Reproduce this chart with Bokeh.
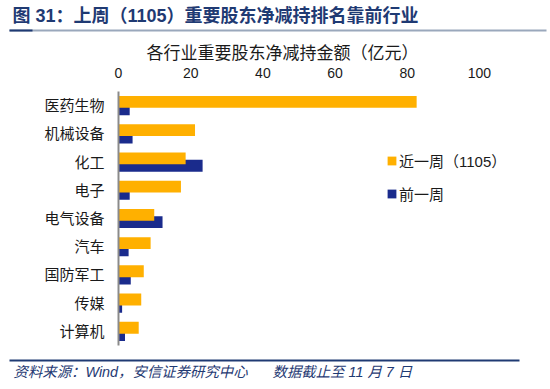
from bokeh.plotting import figure
from bokeh.layouts import column
from bokeh.models import (FactorRange, Range1d, Label, BoxAnnotation, Legend,
                          LegendItem, ColumnDataSource, FixedTicker)
from bokeh.transform import dodge
from bokeh.embed import file_html
from bokeh.resources import INLINE

categories = ["医药生物", "机械设备", "化工", "电子", "电气设备", "汽车", "国防军工", "传媒", "计算机"]
recent_week = [82.6, 21.2, 18.6, 17.3, 9.9, 8.9, 7.0, 6.3, 5.6]
prev_week = [3.1, 3.9, 23.3, 3.1, 12.2, 2.8, 3.4, 1.0, 1.8]
x_ticks = [0, 20, 40, 60, 80, 100]
series_names = ["近一周（1105）", "前一周"]

header_text = "图 31：上周（1105）重要股东净减持排名靠前行业"
chart_title = "各行业重要股东净减持金额（亿元）"
source_text = "资料来源：Wind，安信证券研究中心"
date_text = "数据截止至 11 月 7 日"

YELLOW = "#FFB000"
NAVY_BAR = "#1A2B8C"
NAVY = "#1F3A73"
CJK = "Liberation Sans, Noto Sans CJK SC"
W = 550


def blank(h):
    f = figure(width=W, height=h, output_backend="svg", toolbar_location=None,
               x_range=Range1d(0, W), y_range=Range1d(h, 0),
               x_axis_type=None, y_axis_type=None, min_border=0,
               min_border_left=0, min_border_right=0, min_border_top=0,
               min_border_bottom=0, frame_align=False)
    f.outline_line_color = None
    f.grid.visible = False
    return f


def rule(f, x0, x1, y0, y1, color):
    f.add_layout(BoxAnnotation(left=x0, right=x1, top=y0, bottom=y1,
                               fill_color=color, fill_alpha=1, line_color=None))


# ---- header ----
HA = 64
ph = blank(HA)
ph.add_layout(Label(x=12, y=15, text=header_text, text_font=CJK, text_font_size="18px",
                    text_font_style="bold", text_color=NAVY, text_baseline="middle"))
rule(ph, 9, 546, 29, 31, "#9AA8BC")
rule(ph, 9, 32, 29, 31, NAVY)
ph.add_layout(Label(x=282, y=53, text=chart_title, text_font=CJK, text_font_size="17px",
                    text_color="#1a1a1a", text_align="center", text_baseline="middle"))

# ---- chart ----
HB = 288
p = figure(width=W, height=HB, output_backend="svg", toolbar_location=None,
           y_range=FactorRange(*reversed(categories), range_padding=0),
           x_range=Range1d(0, 108.6), x_axis_location="above",
           min_border_left=118, min_border_right=40, min_border_top=26,
           min_border_bottom=7, frame_align=False)
p.outline_line_color = None
p.grid.visible = False

src = ColumnDataSource(dict(cat=categories, recent=recent_week, prev=prev_week))
r_prev = p.hbar(y=dodge("cat", -0.13, range=p.y_range), right="prev", left=0, height=0.42,
                source=src, fill_color=NAVY_BAR, line_color=None)
r_recent = p.hbar(y=dodge("cat", 0.13, range=p.y_range), right="recent", left=0, height=0.42,
                  source=src, fill_color=YELLOW, line_color=None)

xa = p.xaxis[0]
xa.ticker = FixedTicker(ticks=x_ticks)
xa.axis_line_color = None
xa.major_tick_line_color = None
xa.minor_tick_line_color = None
xa.major_tick_out = 0
xa.major_tick_in = 0
xa.minor_tick_out = 0
xa.major_label_standoff = 14
xa.major_label_text_font = CJK
xa.major_label_text_font_size = "14px"
xa.major_label_text_color = "#1a1a1a"

ya = p.yaxis[0]
ya.axis_line_color = "#8a8a8a"
ya.axis_line_width = 2
ya.major_tick_line_color = None
ya.minor_tick_line_color = None
ya.major_tick_out = 0
ya.major_tick_in = 0
ya.major_label_standoff = 14
ya.major_label_text_font = CJK
ya.major_label_text_font_size = "15px"
ya.major_label_text_color = "#1a1a1a"

legend = Legend(items=[LegendItem(label=series_names[0], renderers=[r_recent]),
                       LegendItem(label=series_names[1], renderers=[r_prev])],
                location=(268, 141), orientation="vertical",
                glyph_width=11, glyph_height=11, label_standoff=2,
                label_text_font=CJK, label_text_font_size="15px",
                label_text_color="#1a1a1a", label_height=20, spacing=12,
                padding=0, margin=0, border_line_color=None,
                background_fill_alpha=0)
p.add_layout(legend, "center")

# ---- footer ----
HC = 37
pf = blank(HC)
rule(pf, 9, 519, 7, 9, NAVY)
pf.add_layout(Label(x=13, y=19, text=source_text, text_font=CJK, text_font_size="14.4px",
                    text_font_style="italic", text_color=NAVY, text_baseline="middle"))
pf.add_layout(Label(x=272, y=19, text=date_text, text_font=CJK, text_font_size="14.4px",
                    text_font_style="italic", text_color=NAVY, text_baseline="middle"))

layout = column(ph, p, pf, spacing=0)
open("out.html", "w").write(file_html(layout, INLINE))
